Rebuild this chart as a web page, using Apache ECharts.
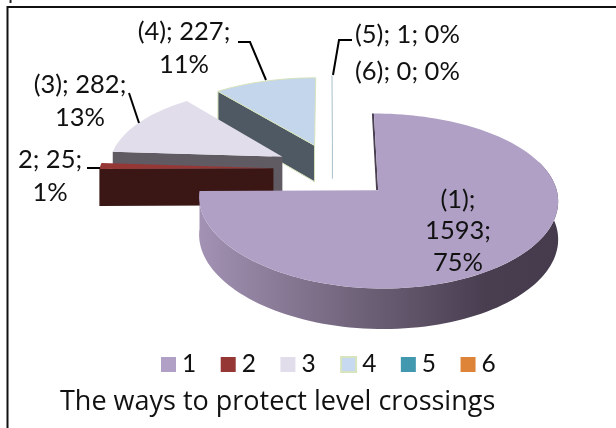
<!DOCTYPE html>
<html><head><meta charset="utf-8">
<style>html,body{margin:0;padding:0;background:#fff}#c{width:616px;height:428px}</style>
<script src="https://cdn.jsdelivr.net/npm/echarts@6/dist/echarts.min.js"></script>
</head><body><div id="c"></div>
<script>
const categories = ['1','2','3','4','5','6'];
const values = [1593,25,282,227,1,0];
const titleText = 'The ways to protect level crossings';
const labelPrefix = ['(1)','2','(3)','(4)','(5)','(6)'];
const topColors = ['#B0A0C6','#953735','#E2DDEA','#C3D6EB','#4198AF','#DD8439'];
const legendColors = ['#B0A0C6','#953735','#E2DDEA','#C6D9F1','#4198AF','#DD8439'];
const wallColors = ['#4A4052','#3A1715','#605A62','#4F5963','#8FA9B8','#DD8439'];
const explode = [0.36,0.34,0.33,0.32,0.34,0.34];

const O = {x:332.5,y:169}, B=174, A=81, kx=0.1, ky=0.12, T=37;
const total = values.reduce((a,b)=>a+b,0);
const LF = 'Lato, "Open Sans", sans-serif';
const P = (u,v,d)=>({
  x:O.x+B*u/(1-kx*v),
  y:O.y+A*v/(1-ky*v)+(d?T/(1-0.07*v):0)
});
let acc=0;
const spans = values.map(v=>{const s=acc; acc+=v/total*360; return [s,acc];});
const rad=a=>a*Math.PI/180;
function pt(i,r,a,d){
  const mid=rad((spans[i][0]+spans[i][1])/2), e=explode[i];
  const u=e*Math.sin(mid)+r*Math.sin(rad(a)), v=-e*Math.cos(mid)-r*Math.cos(rad(a));
  const p=P(u,v,d); return [p.x,p.y];
}
function arc(i,a0,a1,d){const out=[];const n=Math.max(2,Math.ceil(Math.abs(a1-a0)/2));
  for(let j=0;j<=n;j++)out.push(pt(i,1,a0+(a1-a0)*j/n,d));return out;}
function renderSlice(i){
  const [a0,a1]=spans[i];
  if(a1-a0<=0) return {type:'group',children:[]};
  const top=[pt(i,0,0,false),...arc(i,a0,a1,false)];
  const ch=[];
  if(i===0){
    const rimTop=arc(i,70,a1,false), rimBot=arc(i,70,a1,true).reverse();
    ch.push({type:'polygon',z2:1,shape:{points:[...rimTop,...rimBot]},style:{fill:new echarts.graphic.LinearGradient(1,0,0,0,[{offset:0,color:'#453B4C'},{offset:0.2,color:'#483E50'},{offset:0.55,color:'#6E6278'},{offset:1,color:'#A392B4'}],false)}});
    ch.push({type:'polyline',z2:2,shape:{points:[pt(i,0,0,false),pt(i,1,a0,false)]},style:{stroke:wallColors[0],lineWidth:2,fill:'none'},position:[-1,0]});
  } else if(i===4){
    ch.push({type:'polyline',z2:1,shape:{points:[pt(i,1,a0,false),pt(i,0,0,false),pt(i,0,0,true)]},style:{stroke:'#A9BFCE',lineWidth:1,fill:'none'}});
    return {type:'group',children:ch};
  } else {
    const wall=[pt(i,0,0,false),pt(i,1,a0,false),pt(i,1,a0,true),pt(i,0,0,true)];
    ch.push({type:'polygon',z2:1,shape:{points:wall},style:{fill:wallColors[i],stroke:i===3?'#D7E4BD':null,lineWidth:i===3?1:0}});
  }
  ch.push({type:'polygon',z2:3,shape:{points:top},style:{fill:topColors[i],stroke:i===3?'#D7E4BD':null,lineWidth:i===3?1:0}});
  return {type:'group',children:ch};
}
const series = categories.map((name,i)=>({
  type:'custom',name,coordinateSystem:'none',data:[values[i]],z:10-i,
  color:legendColors[i],silent:true,clip:false,animation:false,
  renderItem:()=>renderSlice(i)
}));
const pct = i=>Math.round(values[i]/total*100)+'%';
const labelFont='25.5px '+LF;
const lab = (i,x,y)=>({type:'text',z:30,x,y,style:{
  text:labelPrefix[i]+'; '+values[i]+';\n'+pct(i),font:labelFont,fill:'#111',align:'center',lineHeight:33}});
const one = (i,x,y)=>({type:'text',z:30,x,y,style:{text:labelPrefix[i]+'; '+values[i]+'; '+pct(i),font:labelFont,fill:'#111',align:'left',verticalAlign:'middle'}});
const leader = pts=>({type:'polyline',z:25,shape:{points:pts},style:{stroke:'#000',lineWidth:2,fill:'none'}});
const chart = echarts.init(document.getElementById('c'),null,{renderer:'canvas'});
chart.setOption({
  animation:false,
  backgroundColor:'#fff',
  legend:{show:true,data:categories.map((name,i)=>({name,itemStyle:i===3?{color:legendColors[3],borderColor:'#D7E4BD',borderWidth:2}:{color:legendColors[i]}})),
    left:156,top:347,padding:5,itemWidth:15,itemHeight:15,itemGap:24.5,icon:'rect',selectedMode:false,
    textStyle:{fontFamily:LF,fontSize:24.5,color:'#111',padding:[0,0,0,1]}},
  series,
  graphic:[
    {type:'rect',z:1,shape:{x:7.5,y:7,width:640,height:440},style:{fill:'none',stroke:'#111',lineWidth:2}},
    {type:'text',z:30,x:8,y:-19,style:{text:'protection.',font:'22px '+LF,fill:'#222'}},
    lab(3,184,15),lab(2,80,68),lab(1,50,143),
    {type:'text',z:30,x:458,y:184,style:{text:labelPrefix[0]+';\n'+values[0]+';\n'+pct(0),font:labelFont,fill:'#111',align:'center',lineHeight:31.5}},
    one(4,355,35),one(5,355,72),
    leader([[238,42],[250,42],[266,80]]),
    leader([[129,93],[139,123]]),
    leader([[87,168],[100,168]]),
    leader([[352,40],[339,40],[333,75]]),
    {type:'text',z:30,x:60,y:402,style:{text:titleText,font:'27px "Open Sans", Lato, sans-serif',fill:'#111',verticalAlign:'middle'}}
  ]
});
</script></body></html>
